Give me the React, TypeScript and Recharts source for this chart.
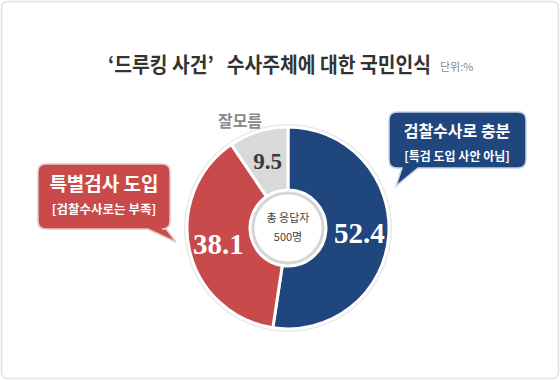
import { Cell, Pie, PieChart } from 'recharts';

const categories = ['검찰수사로 충분', '특별검사 도입', '잘모름'];
const values = [52.4, 38.1, 9.5];
const colors = ['#1f477e', '#c94a4b', '#d9d9d9'];
const labelColors = ['#ffffff', '#ffffff', '#3a3a3a'];

const data = categories.map((name, i) => ({ name, value: values[i] }));

const CX = 288;
const CY = 228;
const RADIAN = Math.PI / 180;
const KR = '"Noto Sans CJK KR", "Noto Sans", sans-serif';

function renderLabel(props: any) {
  const { cx, cy, midAngle, innerRadius, outerRadius, index, value } = props;
  const r = (innerRadius + outerRadius) / 2 + (index === 2 ? 0 : 2);
  const x = cx + r * Math.cos(-midAngle * RADIAN);
  const y = cy + r * Math.sin(-midAngle * RADIAN);
  return (
    <text
      x={x}
      y={y}
      textAnchor="middle"
      dominantBaseline="central"
      fill={labelColors[index]}
      fontFamily='"Liberation Serif", serif'
      fontWeight="bold"
      fontSize={index === 2 ? 23 : 29}
    >
      {value}
    </text>
  );
}

export default function App() {
  return (
    <div style={{ position: 'fixed', left: 0, top: 0, width: 560, height: 380, background: '#fff' }}>
      {/* background: frame + outer ring */}
      <svg width={560} height={380} style={{ position: 'absolute', left: 0, top: 0 }}>
        <rect x={1.5} y={1.5} width={557} height={377} rx={6} fill="#fff" stroke="#e2e2e2" strokeWidth={1.5} />
        <circle cx={CX} cy={CY} r={104} fill="#e9e9e9" />
      </svg>
      <div style={{ position: 'absolute', left: 0, top: 0 }}>
        <PieChart width={560} height={380} margin={{ top: 0, right: 0, bottom: 0, left: 0 }}>
          <Pie
            data={data}
            dataKey="value"
            nameKey="name"
            cx={CX}
            cy={CY}
            innerRadius={38}
            outerRadius={101}
            startAngle={90}
            endAngle={-270}
            stroke="#ffffff"
            strokeWidth={3}
            label={renderLabel}
            labelLine={false}
            isAnimationActive={false}
          >
            {data.map((d, i) => (
              <Cell key={d.name} fill={colors[i]} />
            ))}
          </Pie>
        </PieChart>
      </div>
      {/* foreground: titles, centre, callouts */}
      <svg width={560} height={380} style={{ position: 'absolute', left: 0, top: 0, pointerEvents: 'none' }}>
        <g transform="translate(108,72) scale(0.92,1)">
          <text x={0} y={0} fontFamily={KR} fontWeight="bold" fontSize={21} fill="#333">
            {'‘드루킹 사건’\u00A0\u00A0\u00A0수사주체에 대한 국민인식'}
          </text>
        </g>
        <text x={440} y={71} fontFamily={KR} fontSize={11} fill="#888">
          단위:%
        </text>

        <circle cx={CX} cy={CY} r={35} fill="#fff" stroke="#d6d6d6" strokeWidth={3} />
        <text x={CX} y={222} textAnchor="middle" fontFamily={KR} fontSize={11} fill="#444">
          총 응답자
        </text>
        <text x={CX} y={241} textAnchor="middle" fontFamily={KR} fontSize={11} fill="#444">
          500명
        </text>

        <text x={240} y={127} textAnchor="middle" fontFamily={KR} fontWeight="bold" fontSize={16} fill="#8a8a8a">
          잘모름
        </text>

        <path
          d="M397 112 H518 Q526 112 526 120 V160 Q526 168 518 168 H418 L396 186 L402 168 H397 Q389 168 389 160 V120 Q389 112 397 112 Z"
          fill="#1f477e"
          stroke="#c9d3e0"
          strokeWidth={1.5}
        />
        <text x={457} y={137} textAnchor="middle" fontFamily={KR} fontWeight="bold" fontSize={16} fill="#fff">
          검찰수사로 충분
        </text>
        <text x={457} y={161} textAnchor="middle" fontFamily={KR} fontWeight="bold" fontSize={12} fill="#fff">
          [특검 도입 사안 아님]
        </text>

        <path
          d="M46 164 H162 Q170 164 170 172 V221 Q170 229 162 229 H166 L176 242 L148 229 H46 Q38 229 38 221 V172 Q38 164 46 164 Z"
          fill="#c94a4b"
          stroke="#e5c6c6"
          strokeWidth={1.5}
        />
        <text x={104} y={191} textAnchor="middle" fontFamily={KR} fontWeight="bold" fontSize={19} fill="#fff">
          특별검사 도입
        </text>
        <text x={104} y={214} textAnchor="middle" fontFamily={KR} fontWeight="bold" fontSize={12.5} fill="#fff">
          [검찰수사로는 부족]
        </text>
      </svg>
    </div>
  );
}
